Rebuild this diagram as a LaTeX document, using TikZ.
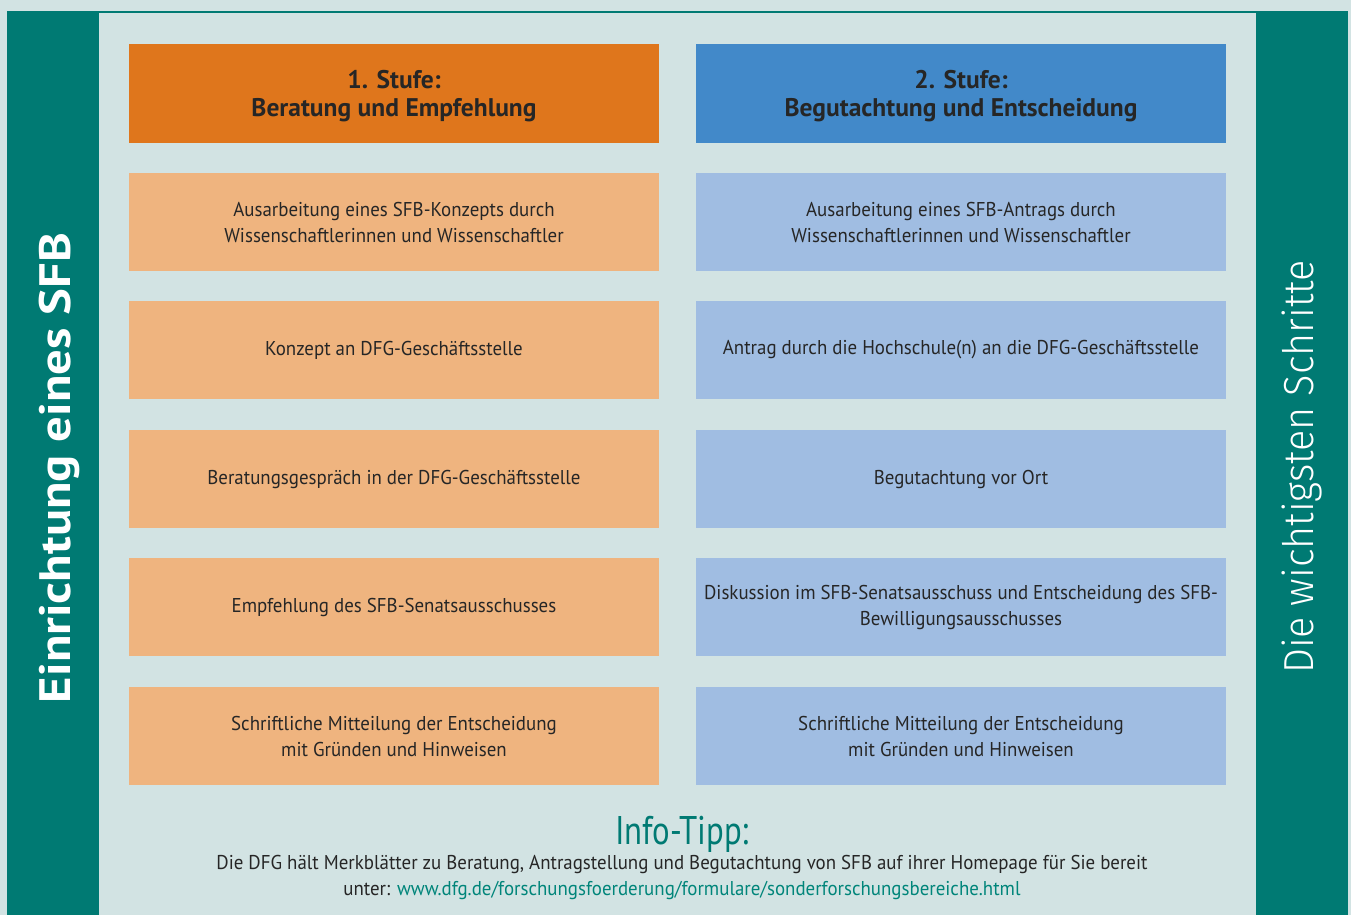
\documentclass[tikz,border=0pt]{standalone}
\usepackage{fontspec}
\setmainfont{PT Sans}
\newfontfamily\bodyf{PT Sans}[FakeStretch=0.945]
\newfontfamily\tipf{PT Sans}[FakeStretch=0.82]
\newfontfamily\sidef{PT Sans}[FakeStretch=1.15]
\newfontfamily\lightf{Fira Sans Light}[FakeStretch=0.94]
\definecolor{bgc}{HTML}{D2E3E3}
\definecolor{tealc}{HTML}{007A73}
\definecolor{orH}{HTML}{DF761C}
\definecolor{orL}{HTML}{EFB47F}
\definecolor{blH}{HTML}{4289C9}
\definecolor{blL}{HTML}{A0BDE2}
\definecolor{txt}{HTML}{262626}
\definecolor{linkc}{HTML}{00857A}
\begin{document}
\begin{tikzpicture}[x=1pt,y=-1pt,
  cell/.style={minimum width=530pt, minimum height=98pt, inner sep=0pt, align=center, text=txt,
    font=\bodyf\fontsize{20}{26}\selectfont},
  headcell/.style={cell, minimum height=99pt, font=\bfseries\fontsize{25.5}{28}\selectfont},
  orbox/.style={cell, fill=orL},
  blbox/.style={cell, fill=blL},
  infotext/.style={anchor=base, inner sep=0pt, text=txt, font=\bodyf\fontsize{20}{26}\selectfont}]
\useasboundingbox (0,0) rectangle (1351,915);
\fill[bgc] (0,0) rectangle (1351,915);
\fill[tealc] (7,11) rectangle (99,915);
\fill[tealc] (1256,11) rectangle (1348,915);
\fill[tealc] (99,11) rectangle (1256,13.5);
% headers
\fill[orH] (129,44) rectangle (659,143);
\fill[blH] (696,44) rectangle (1226,143);
\node[headcell] (h1) at (394,96) {1. Stufe:\\Beratung und Empfehlung};
\node[headcell] (h2) at (961,96) {2. Stufe:\\Begutachtung und Entscheidung};
% left column
\node[orbox] (a1) at (394,222) {Ausarbeitung eines SFB-Konzepts durch\\Wissenschaftlerinnen und Wissenschaftler};
\node[orbox] (a2) at (394,350) {Konzept an DFG-Geschäftsstelle};
\node[orbox] (a3) at (394,479) {Beratungsgespräch in der DFG-Geschäftsstelle};
\node[orbox] (a4) at (394,607) {Empfehlung des SFB-Senatsausschusses};
\node[orbox] (a5) at (394,736) {Schriftliche Mitteilung der Entscheidung\\mit Gründen und Hinweisen};
% right column
\node[blbox] (b1) at (961,222) {Ausarbeitung eines SFB-Antrags durch\\Wissenschaftlerinnen und Wissenschaftler};
\node[blbox] (b2) at (961,350) {Antrag durch die Hochschule(n) an die DFG-Geschäftsstelle};
\node[blbox] (b3) at (961,479) {Begutachtung vor Ort};
\node[blbox] (b4) at (961,607) {Diskussion im SFB-Senatsausschuss und Entscheidung des SFB-\\Bewilligungsausschusses};
\node[blbox] (b5) at (961,736) {Schriftliche Mitteilung der Entscheidung\\mit Gründen und Hinweisen};
% info
\node[anchor=base, inner sep=0pt, text=tealc, font=\tipf\fontsize{40}{40}\selectfont] (tip) at (682,844) {Info-Tipp:};
\node[infotext] (tipa) at (682,869)
  {Die DFG hält Merkblätter zu Beratung, Antragstellung und Begutachtung von SFB auf ihrer Homepage für Sie bereit};
\node[infotext] (tipb) at (682,895)
  {unter: \textcolor{linkc}{www.dfg.de/forschungsfoerderung/formulare/sonderforschungsbereiche.html}};
% side titles
\node[rotate=90, inner sep=0pt, text=white, font=\sidef\bfseries\fontsize{44}{44}\selectfont] (lt) at (59,468) {Einrichtung eines SFB};
\node[rotate=90, inner sep=0pt, text=white, font=\lightf\fontsize{42}{42}\selectfont] (rt) at (1302,467) {Die wichtigsten Schritte};
\end{tikzpicture}
\end{document}
